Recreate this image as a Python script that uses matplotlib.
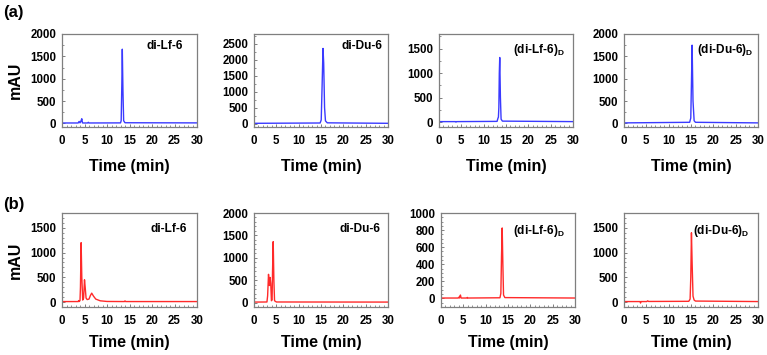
import matplotlib
matplotlib.use("Agg")
import matplotlib.pyplot as plt
from matplotlib.ticker import MultipleLocator

plt.rcParams['font.family'] = ['Liberation Sans', 'DejaVu Sans']
plt.rcParams['font.weight'] = 'bold'
plt.rcParams['mathtext.fontset'] = 'custom'
plt.rcParams['mathtext.rm'] = 'Liberation Sans:bold'
plt.rcParams['mathtext.bf'] = 'Liberation Sans:bold'

# ---- data: (time in min, absorbance in mAU) points ----
a1_t = [0, 3.6, 3.8, 4.0, 4.2, 4.4, 4.55, 4.8, 5.7, 5.85, 6.0, 13.0, 13.15, 13.3, 13.4, 13.55, 13.7, 14.0, 30]
a1_y = [10, 10, 45, 12, 50, 105, 12, 10, 10, 25, 10, 12, 60, 900, 1660, 700, 60, 15, 12]

a2_t = [0, 14.8, 15.05, 15.25, 15.45, 15.6, 15.8, 16.0, 16.4, 30]
a2_y = [15, 25, 120, 1200, 2350, 1900, 500, 90, 30, 15]

a3_t = [0, 3.7, 3.8, 3.9, 13.0, 13.2, 13.3, 13.4, 13.5, 13.6, 13.75, 13.9, 14.2, 30]
a3_y = [10, 10, 0, 10, 15, 80, 100, 300, 1000, 1320, 500, 60, 20, 10]

a4_t = [0, 14.7, 14.95, 15.1, 15.25, 15.45, 15.7, 16.0, 30]
a4_y = [12, 25, 120, 900, 1750, 500, 60, 25, 12]

b1_t = [0, 3.6, 3.7, 3.8, 4.0, 4.1, 4.25, 4.4, 4.6, 4.8, 5.0, 5.15, 5.35, 5.6, 6.0, 6.3, 6.6, 7.0, 7.5, 8.5, 10, 13.9, 14.0, 14.1, 30]
b1_y = [10, 10, 30, 10, 30, 300, 1200, 500, 40, 80, 450, 300, 80, 50, 60, 130, 180, 120, 60, 25, 12, 10, 25, 10, 10]

b2_t = [0, 2.9, 3.05, 3.25, 3.45, 3.6, 3.75, 3.9, 4.05, 4.15, 4.3, 4.45, 4.6, 5.0, 30]
b2_y = [10, 12, 150, 630, 380, 560, 420, 40, 60, 700, 1360, 500, 40, 12, 10]

b3_t = [0, 3.8, 4.0, 4.1, 4.2, 4.35, 4.5, 5.8, 5.9, 6.0, 13.2, 13.4, 13.55, 13.7, 13.85, 14.0, 14.3, 30]
b3_y = [5, 5, 15, 5, 20, 40, 5, 5, 12, 5, 8, 60, 500, 825, 400, 40, 10, 5]

b4_t = [0, 3.6, 3.7, 3.8, 5.1, 5.3, 5.5, 14.5, 14.8, 14.95, 15.1, 15.25, 15.45, 15.7, 16.0, 30]
b4_y = [10, 10, -20, 10, 10, 25, 12, 15, 60, 500, 1400, 800, 120, 40, 20, 10]

labels_a = ['di-Lf-6', 'di-Du-6', r'(di-Lf-6)$_\mathregular{D}$', r'(di-Du-6)$_\mathregular{D}$']
labels_b = ['di-Lf-6', 'di-Du-6', r'(di-Lf-6)$_\mathregular{D}$', r'(di-Du-6)$_\mathregular{D}$']

ylims_a = [(-80, 2000), (-100, 2800), (-100, 1800), (-80, 2000)]
ymajor_a = [500, 500, 500, 500]
ylims_b = [(-100, 1800), (-100, 2000), (-100, 1000), (-100, 1800)]
ymajor_b = [500, 500, 200, 500]

traces_a = [(a1_t, a1_y), (a2_t, a2_y), (a3_t, a3_y), (a4_t, a4_y)]
traces_b = [(b1_t, b1_y), (b2_t, b2_y), (b3_t, b3_y), (b4_t, b4_y)]

W, H = 767, 355
fig = plt.figure(figsize=(W / 100, H / 100), dpi=100)

lefts_a = [62, 254, 439, 624]
lefts_b = [62, 254, 441, 624]
widths = [135, 134, 134, 134]
rows = [(34, 127), (213, 307)]
xlabel_y = [167, 343]
label_right_a = [183, 382, 565, 754]
label_right_b = [187, 380, 565, 750]
label_top_a = [40, 40, 42, 42]
label_top_b = [223, 223, 223, 223]

def add_ax(left, top, width, bottom):
    return fig.add_axes([left / W, 1 - bottom / H, width / W, (bottom - top) / H])

gray = '#7f7f7f'

def style(ax, ylim, ymaj, yminor_div):
    ax.set_xlim(0, 30)
    ax.set_ylim(*ylim)
    ax.xaxis.set_major_locator(MultipleLocator(5))
    ax.xaxis.set_minor_locator(MultipleLocator(1))
    ax.yaxis.set_major_locator(MultipleLocator(ymaj))
    ax.yaxis.set_minor_locator(MultipleLocator(ymaj / yminor_div))
    for s in ax.spines.values():
        s.set_color(gray)
        s.set_linewidth(0.9)
    ax.tick_params(which='both', direction='in', color=gray, labelsize=8.3)
    ax.tick_params(axis='x', pad=6)
    ax.tick_params(axis='y', pad=4)
    ax.tick_params(which='major', length=2.5, width=0.7)
    ax.tick_params(which='minor', length=1.5, width=0.6)
    ax.tick_params(top=False, right=False)
    for lab in ax.get_xticklabels() + ax.get_yticklabels():
        lab.set_fontweight('bold')

for r, (row, lefts, traces, labels, ylims, ymaj, color, mdiv, lright, ltop) in enumerate([
        (rows[0], lefts_a, traces_a, labels_a, ylims_a, ymajor_a, '#3a3aff', 2, label_right_a, label_top_a),
        (rows[1], lefts_b, traces_b, labels_b, ylims_b, ymajor_b, '#ff2a2a', 5, label_right_b, label_top_b)]):
    for i in range(4):
        ax = add_ax(lefts[i], row[0], widths[i], row[1])
        t, y = traces[i]
        ax.plot(t, y, color=color, lw=1.0)
        style(ax, ylims[i], ymaj[i], mdiv if ymaj[i] == 500 else 4)
        ax.text(lright[i] / W, 1 - ltop[i] / H, labels[i], transform=fig.transFigure,
                ha='right', va='top', fontsize=8.6, fontweight='bold')
        ax.set_xlabel('Time (min)', fontsize=11.5, fontweight='bold')
        h = row[1] - row[0]
        ax.xaxis.set_label_coords(0.5, -(xlabel_y[r] - row[1]) / h)
        ax.xaxis.label.set_va('center')
        if i == 0:
            ax.set_ylabel('mAU', fontsize=11.5, fontweight='bold')
            ax.yaxis.set_label_coords(-(lefts[i] - 15) / widths[i], 0.5)
            ax.yaxis.label.set_va('center')

fig.text(3 / W, 1 - 13 / H, '(a)', fontsize=12, fontweight='bold', va='center', ha='left')
fig.text(3 / W, 1 - 204 / H, '(b)', fontsize=12, fontweight='bold', va='center', ha='left')

fig.savefig('out.png', dpi=100)
